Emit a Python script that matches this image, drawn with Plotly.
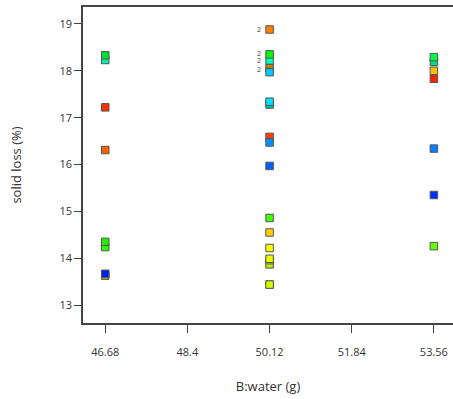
import plotly.graph_objects as go

# Design points (B: water, g) and measured solid loss (%)
water = [46.68, 46.68, 46.68, 46.68, 46.68, 46.68, 46.68, 46.68,
         50.12, 50.12, 50.12, 50.12, 50.12, 50.12, 50.12, 50.12, 50.12, 50.12,
         50.12, 50.12, 50.12, 50.12, 50.12, 50.12, 50.12, 50.12,
         53.56, 53.56, 53.56, 53.56, 53.56, 53.56, 53.56]
solid_loss = [18.23, 18.33, 17.22, 16.31, 14.24, 14.35, 13.63, 13.67,
              18.88, 18.21, 18.35, 18.06, 17.97, 17.28, 17.34, 16.59, 16.47,
              15.97, 14.86, 14.55, 14.22, 13.87, 13.96, 13.99, 13.44, 13.44,
              18.19, 18.29, 18.00, 17.83, 16.34, 15.35, 14.26]
point_colors = ["#00f0b0", "#00e030", "#ff3000", "#ff6000", "#30ff00", "#20f000", "#a0c000", "#0020ff",
                "#ff8000", "#00ffc0", "#00ff00", "#c08000", "#00c8ff", "#00c0c0", "#00e0ff", "#ff4000", "#0090ff",
                "#0060ff", "#40ff00", "#ffd000", "#ffff00", "#b0f000", "#d8ff00", "#f0ff00", "#d0ff00", "#d0ff00",
                "#00e080", "#00ff40", "#ffc000", "#ff2000", "#0080ff", "#0030ff", "#60ff00"]

# replicate-count labels
rep_x = [50.12, 50.12, 50.12, 50.12]
rep_y = [18.88, 18.37, 18.21, 18.02]
rep_text = ["2", "2", "2", "2"]

x_tickvals = [46.68, 48.4, 50.12, 51.84, 53.56]
x_ticktext = ["46.68", "48.4", "50.12", "51.84", "53.56"]
y_tickvals = [13, 14, 15, 16, 17, 18, 19]

fig = go.Figure()
fig.add_trace(go.Scatter(
    x=water, y=solid_loss, mode="markers",
    marker=dict(symbol="square", size=7.5, color=point_colors,
                line=dict(color="#555555", width=1)),
    showlegend=False, hoverinfo="x+y"))

for xv, yv, t in zip(rep_x, rep_y, rep_text):
    fig.add_annotation(x=xv, y=yv, xref="x", yref="y", text=t, showarrow=False,
                       xanchor="right", xshift=-7, font=dict(size=7, color="#444"))

fig.update_layout(
    width=453, height=399,
    margin=dict(l=83, r=0, t=7, b=76),
    paper_bgcolor="white", plot_bgcolor="white",
    font=dict(family="Open Sans", color="#333"),
)
fig.update_xaxes(
    range=[46.214, 53.96], tickvals=x_tickvals, ticktext=x_ticktext,
    showgrid=False, zeroline=False, showline=True, linecolor="#444", linewidth=1.5,
    mirror=True, ticks="outside", ticklen=8, tickcolor="#444", tickwidth=1,
    ticklabelstandoff=10, automargin=False,
    tickfont=dict(size=11, color="#333"),
    title=dict(text="B:water (g)", font=dict(size=13, color="#333"), standoff=24))
fig.update_yaxes(
    range=[12.62, 19.36], tickvals=y_tickvals,
    showgrid=False, zeroline=False, showline=True, linecolor="#444", linewidth=1.5,
    ticks="outside", ticklen=7, tickcolor="#444", tickwidth=1, automargin=False,
    tickfont=dict(size=11, color="#333"),
    title=dict(text="solid loss (%)", font=dict(size=13, color="#333"), standoff=35))

fig.write_html("out.html", config={"displayModeBar": False},
               post_script="document.body.style.margin='0';")
